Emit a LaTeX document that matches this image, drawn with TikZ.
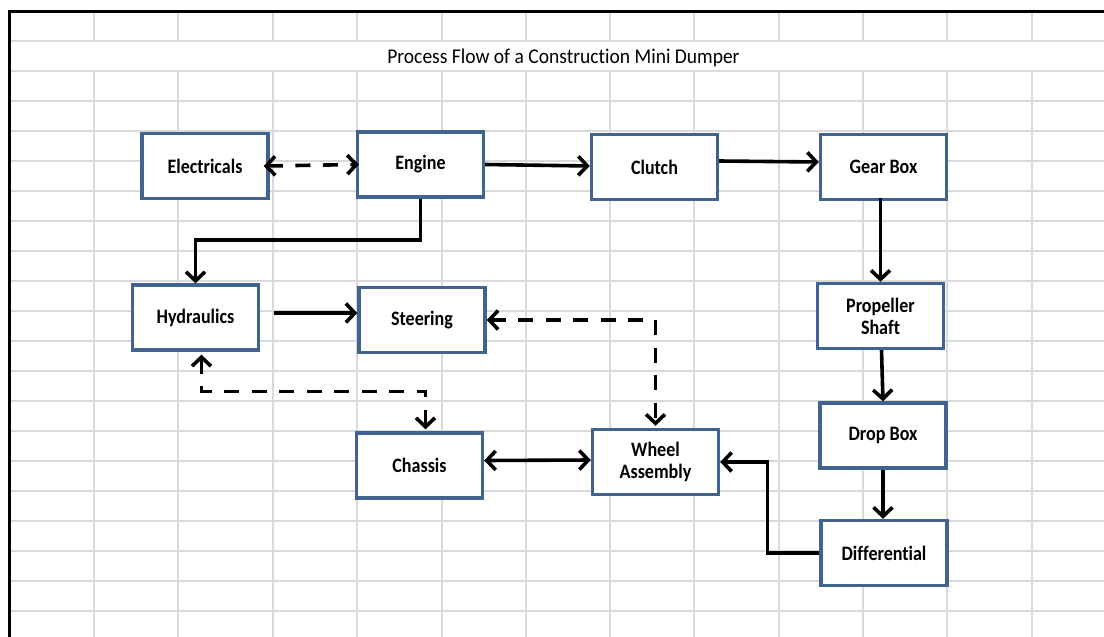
\documentclass[tikz,border=0pt]{standalone}
\usepackage{fontspec}
\usepackage{tikz}
\usetikzlibrary{positioning,calc,arrows.meta}
\newfontfamily\cellfont[FakeStretch=0.88, Ligatures=NoCommon]{Carlito}
\newfontfamily\titlefont[FakeStretch=0.93, Ligatures=NoCommon]{Carlito}
\definecolor{boxblue}{RGB}{65,99,143}
\definecolor{gridgray}{RGB}{217,217,217}

\begin{document}
\begin{tikzpicture}[x=1pt, y=-1pt,
	box/.style={draw=boxblue, line width=3.4pt, fill=white, minimum width=126pt, minimum height=65pt, inner sep=0pt, align=center, font=\cellfont\bfseries\fontsize{20.5}{22}\selectfont},
	flow/.style={line width=3.6pt, line join=miter},
	dashline/.style={flow, dash pattern=on 15pt off 12.5pt},
	cell/.style={gridgray, line width=2pt},
	>={Straight Barb[length=9pt,width=19pt]}]
	\useasboundingbox (0,0) rectangle (1104,637);

	% sheet grid, the title row is merged
	\foreach \y in {41,71,...,611}
		\draw[cell] (9,\y) -- (1104,\y);
	\foreach \x in {94,178,273,357,442,526,610,694,779,863,947,1032} {
		\draw[cell] (\x,11) -- (\x,41);
		\draw[cell] (\x,71) -- (\x,637);
	}
	\draw[line width=3pt] (9,637) -- (9,11) -- (1104,11);

	\node [font=\titlefont\fontsize{21}{24}\selectfont] (Title) at (563.5,58) {Process Flow of a Construction Mini Dumper};

	\node [box] (Electricals) at (205, 166) {Electricals};
	\node [box] (Engine) at (420.5, 164.5) {Engine};
	\node [box] (Clutch) at (654.5, 167) {Clutch};
	\node [box] (GearBox) at (883.5, 167) {Gear Box};
	\node [box] (Hydraulics) at (195.5, 317.5) {Hydraulics};
	\node [box] (Steering) at (422, 320) {Steering};
	\node [box] (Propeller) at (880.5, 316) {Propeller\\Shaft};
	\node [box] (Chassis) at (419.5, 465.5) {Chassis};
	\node [box] (Wheel) at (655.5, 462) {Wheel\\Assembly};
	\node [box] (DropBox) at (883, 435.5) {Drop Box};
	\node [box] (Diff) at (884, 553) {Differential};

	% drive line
	\draw [flow, ->] (Engine.east) -- ([yshift=1]Clutch.west);
	\draw [flow, ->] ([yshift=6]Clutch.east) -- ([yshift=5]GearBox.west);
	\draw [flow, ->] ([xshift=-3, yshift=3]GearBox.south) -- (Propeller.north);
	\draw [flow, ->] ([xshift=1]Propeller.south) -- (DropBox.north);
	\draw [flow, ->] (DropBox.south) -- ([xshift=-1]Diff.south |- Diff.north);
	\draw [flow, ->] (Diff.west) -- ++(-52,0) |- (Wheel.east);

	% hydraulic side
	\draw [flow, ->] (Engine.south) -- (Engine.south |- 0,240) -| (Hydraulics.north);
	\draw [flow, ->] ([xshift=14, yshift=4.5]Hydraulics.east) -- ([yshift=7]Steering.west);
	\draw [flow, <->] ([yshift=5]Chassis.east) -- ([yshift=2]Wheel.west);

	% dashed links
	\draw [dashline, <->] ([xshift=-6]Electricals.east) -- ([xshift=3]Engine.west);
	\draw [dashline, <->] (Steering.east) -| ([yshift=2]Wheel.north);
	\draw [dashline, <->] ($(Hydraulics.south)+(6,3)$) |- ($(Chassis.north)+(6,-40)$) -- ($(Chassis.north)+(6,-2)$);
\end{tikzpicture}
\end{document}
